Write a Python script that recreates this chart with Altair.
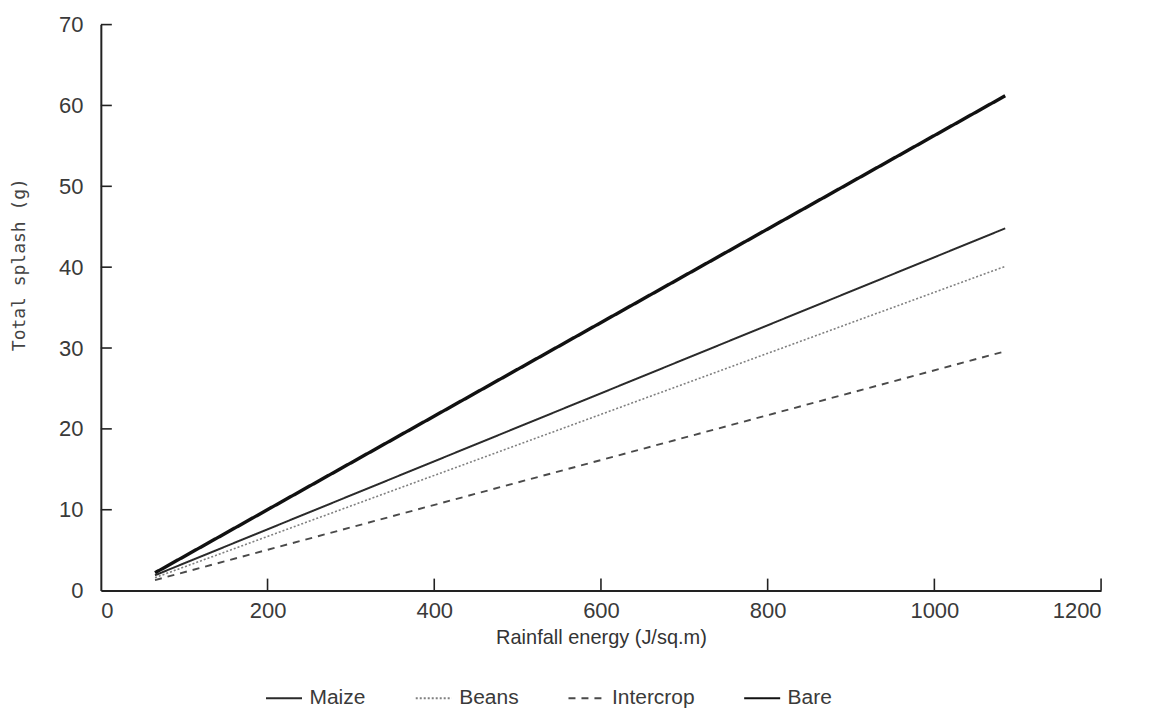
import altair as alt
import pandas as pd

# Data (straight fitted lines, start and end points)
series = ["Maize", "Beans", "Intercrop", "Bare"]
energy_start = [65, 65, 65, 65]
energy_end = [1085, 1085, 1085, 1085]
splash_start = [1.9, 1.6, 1.3, 2.2]
splash_end = [44.8, 40.1, 29.6, 61.2]

x_ticks = [200, 400, 600, 800, 1000, 1200]
y_ticks = [10, 20, 30, 40, 50, 60, 70]

rows = []
for s, e0, e1, v0, v1 in zip(series, energy_start, energy_end, splash_start, splash_end):
    rows.append({"series": s, "energy": e0, "splash": v0})
    rows.append({"series": s, "energy": e1, "splash": v1})
df = pd.DataFrame(rows)

TOP = 16
W, H = 1002, 591 - 8 - TOP
xscale = alt.Scale(domain=[0, 1200], nice=False, zero=True)
yscale = alt.Scale(domain=[0, 70], nice=False, zero=True)

label_font = "Liberation Sans"
axis_color = "#222222"
text_color = "#3a3a3a"

leg = dict(title=None, orient="none", direction="horizontal",
           legendX=265 - 101, legendY=H + 88, symbolType="stroke",
           symbolSize=1300, symbolStrokeWidth=2, labelFontSize=21, labelFont=label_font,
           labelColor=text_color, columnPadding=45, labelOffset=6)

lines = alt.Chart(df).mark_line().encode(
    x=alt.X("energy:Q", scale=xscale,
            axis=alt.Axis(title="Rainfall energy (J/sq.m)", values=[0, 200, 400, 600, 800, 1000, 1200],
                          format="d", tickSize=0, labelPadding=10, labelFontSize=22, labelFont=label_font,
                          labelColor=text_color, titleFont=label_font, titleFontSize=20,
                          titleFontWeight="normal", titleColor="#333333", titlePadding=6,
                          domainColor=axis_color, domainWidth=2, grid=False)),
    y=alt.Y("splash:Q", scale=yscale,
            axis=alt.Axis(title="Total splash (g)", values=[0, 10, 20, 30, 40, 50, 60, 70],
                          tickSize=0, labelPadding=18, labelFontSize=22, labelFont=label_font,
                          labelColor=text_color, titleFont="DejaVu Sans Mono", titleFontSize=18,
                          titleFontWeight="normal", titleColor="#444444", titleX=-72, titleY=240,
                          domainColor=axis_color, domainWidth=2, grid=False)),
    color=alt.Color("series:N", sort=series,
                    scale=alt.Scale(domain=series, range=["#2a2a2a", "#808080", "#4a4a4a", "#111111"]),
                    legend=alt.Legend(**leg)),
    strokeDash=alt.StrokeDash("series:N", sort=series,
                              scale=alt.Scale(domain=series, range=[[1, 0], [2, 2], [7, 6], [1, 0]]),
                              legend=alt.Legend(**leg)),
    strokeWidth={"condition": [
        {"test": "datum.series === 'Bare'", "value": 3.4},
        {"test": "datum.series === 'Maize'", "value": 2.0},
        {"test": "datum.series === 'Intercrop'", "value": 1.9},
    ], "value": 1.6},
)

xt = alt.Chart(pd.DataFrame({"energy": x_ticks})).mark_rule(color=axis_color, strokeWidth=1.6).encode(
    x=alt.X("energy:Q", scale=xscale),
    y=alt.value(H),
    y2=alt.value(H - 12),
)
yt = alt.Chart(pd.DataFrame({"splash": y_ticks})).mark_rule(color=axis_color, strokeWidth=1.6).encode(
    y=alt.Y("splash:Q", scale=yscale),
    x=alt.value(0),
    x2=alt.value(11),
)

chart = alt.layer(lines, xt, yt).properties(
    width=W, height=H,
    background="white",
    autosize=alt.AutoSizeParams(type="none"),
    padding={"left": 93, "top": TOP, "right": 40, "bottom": 120},
).configure_view(stroke=None)

chart.save("out.html", embed_options={"renderer": "svg", "actions": False})
